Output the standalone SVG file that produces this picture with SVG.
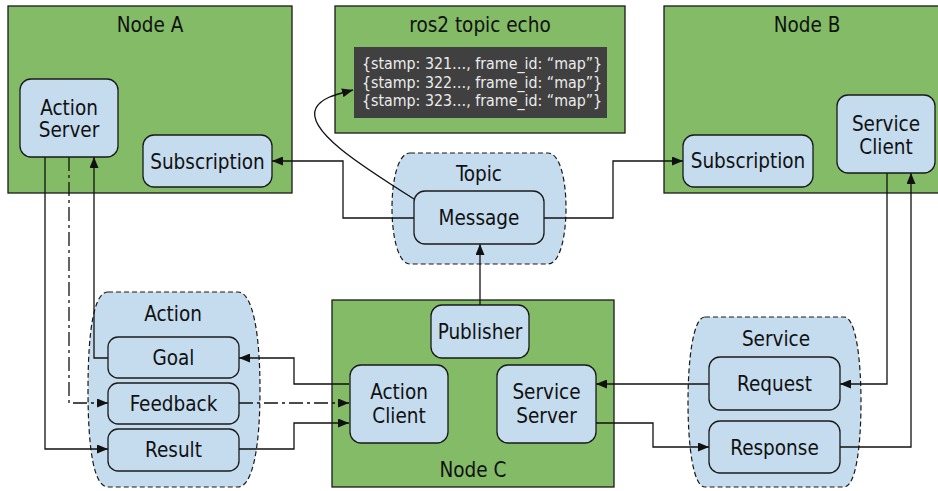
<svg xmlns="http://www.w3.org/2000/svg" width="938" height="491" viewBox="0 0 938 491">
<style>
.node{fill:#83bb67;stroke:#1a1a1a;stroke-width:1.3}
.box{fill:#c5dcef;stroke:#1a1a1a;stroke-width:1.3}
.grp{fill:#c5dcef;stroke:#1a1a1a;stroke-width:1.2;stroke-dasharray:5 3}
.t{font-family:"DejaVu Sans Condensed","DejaVu Sans",sans-serif;font-stretch:condensed;font-size:20.5px;fill:#111;text-anchor:middle}
.m{font-family:"DejaVu Sans Condensed","DejaVu Sans",sans-serif;font-stretch:condensed;font-size:15.8px;fill:#ececec}
.c{fill:none;stroke:#111;stroke-width:1.3}
.dd{stroke-dasharray:14 4 3 4}
</style>
<defs>
<marker id="ah" markerUnits="userSpaceOnUse" markerWidth="11" markerHeight="9" refX="11" refY="4.5" orient="auto">
<path d="M0,0 L11,4.5 L0,9 Z" fill="#111"/>
</marker>
</defs>

<g id="nodeA">
<rect class="node" x="8" y="6" width="284" height="187"/>
<text class="t" x="150" y="32">Node A</text>
</g>
<g id="echo">
<rect class="node" x="335" y="6" width="290" height="127"/>
<text class="t" x="480" y="32">ros2 topic echo</text>
<rect x="354" y="47" width="253" height="71" fill="#404040"/>
<text class="m" x="362" y="69">{stamp: 321…, frame_id: “map”}</text>
<text class="m" x="362" y="88">{stamp: 322…, frame_id: “map”}</text>
<text class="m" x="362" y="106">{stamp: 323…, frame_id: “map”}</text>
</g>
<g id="nodeB">
<rect class="node" x="664" y="6" width="280" height="187"/>
<text class="t" x="807" y="32">Node B</text>
</g>
<g id="nodeC">
<rect class="node" x="332" y="300" width="282" height="187"/>
<text class="t" x="473" y="477">Node C</text>
</g>
<g id="topic">
<path class="grp" d="M410,153 H548 C560,153 566,180 566,208 C566,236 560,264 548,264 H410 C398,264 392,236 392,208 C392,180 398,153 410,153 Z"/>
<text class="t" x="479" y="181">Topic</text>
</g>
<g id="action">
<path class="grp" d="M108,292 H238 C252,292 260,330 260,390 C260,450 252,487 238,487 H108 C94,487 88,450 88,390 C88,330 94,292 108,292 Z"/>
<text class="t" x="173" y="321">Action</text>
</g>
<g id="service">
<path class="grp" d="M705,317 H844 C856,317 861,360 861,402 C861,445 856,487 844,487 H705 C693,487 688,445 688,402 C688,360 693,317 705,317 Z"/>
<text class="t" x="776" y="346">Service</text>
</g>

<g id="connectors">
<path class="c" marker-end="url(#ah)" d="M414,218 H343 V161 H272"/>
<path class="c" marker-end="url(#ah)" d="M544,218 H613 V161 H683"/>
<path class="c" marker-end="url(#ah)" d="M480,305 V244"/>
<path class="c" marker-end="url(#ah)" d="M414,199 C360,165 305,130 316,108 C322,97 338,94 353,90"/>
<path class="c" marker-end="url(#ah)" d="M45,157 V449 H108"/>
<path class="c dd" marker-end="url(#ah)" d="M69,157 V403 H108"/>
<path class="c" marker-end="url(#ah)" d="M108,358 H94 V157"/>
<path class="c" marker-end="url(#ah)" d="M349,384 H294 V358 H239"/>
<path class="c dd" marker-end="url(#ah)" d="M239,403 H349"/>
<path class="c" marker-end="url(#ah)" d="M239,449 H294 V423 H349"/>
<path class="c" marker-end="url(#ah)" d="M887,173 V384 H840"/>
<path class="c" marker-end="url(#ah)" d="M840,447 H911 V173"/>
<path class="c" marker-end="url(#ah)" d="M709,384 H596"/>
<path class="c" marker-end="url(#ah)" d="M596,423 H653 V447 H709"/>
</g>

<g id="actionServer">
<rect class="box" x="20" y="79" width="98" height="78" rx="11"/>
<text class="t" x="69" y="115">Action</text>
<text class="t" x="69" y="137">Server</text>
</g>
<g id="subscriptionA">
<rect class="box" x="143" y="135" width="129" height="52" rx="11"/>
<text class="t" x="207.5" y="169">Subscription</text>
</g>
<g id="subscriptionB">
<rect class="box" x="683" y="135" width="130" height="52" rx="11"/>
<text class="t" x="748" y="168">Subscription</text>
</g>
<g id="serviceClient">
<rect class="box" x="837" y="95" width="98" height="78" rx="11"/>
<text class="t" x="886" y="131">Service</text>
<text class="t" x="886" y="154">Client</text>
</g>
<g id="message">
<rect class="box" x="414" y="191" width="130" height="53" rx="11"/>
<text class="t" x="479" y="225">Message</text>
</g>
<g id="publisher">
<rect class="box" x="431" y="305" width="98" height="53" rx="11"/>
<text class="t" x="480" y="339">Publisher</text>
</g>
<g id="actionClient">
<rect class="box" x="350" y="365" width="98" height="78" rx="11"/>
<text class="t" x="399" y="399">Action</text>
<text class="t" x="399" y="423">Client</text>
</g>
<g id="serviceServer">
<rect class="box" x="497" y="365" width="99" height="78" rx="11"/>
<text class="t" x="546.5" y="399">Service</text>
<text class="t" x="546.5" y="423">Server</text>
</g>
<g id="goal">
<rect class="box" x="108" y="337" width="131" height="41" rx="10"/>
<text class="t" x="173.5" y="365">Goal</text>
</g>
<g id="feedback">
<rect class="box" x="108" y="383" width="131" height="41" rx="10"/>
<text class="t" x="173.5" y="411">Feedback</text>
</g>
<g id="result">
<rect class="box" x="108" y="429" width="131" height="42" rx="10"/>
<text class="t" x="173.5" y="457">Result</text>
</g>
<g id="request">
<rect class="box" x="709" y="357" width="131" height="53" rx="11"/>
<text class="t" x="774.5" y="391">Request</text>
</g>
<g id="response">
<rect class="box" x="709" y="421" width="131" height="52" rx="11"/>
<text class="t" x="774.5" y="455">Response</text>
</g>
</svg>
